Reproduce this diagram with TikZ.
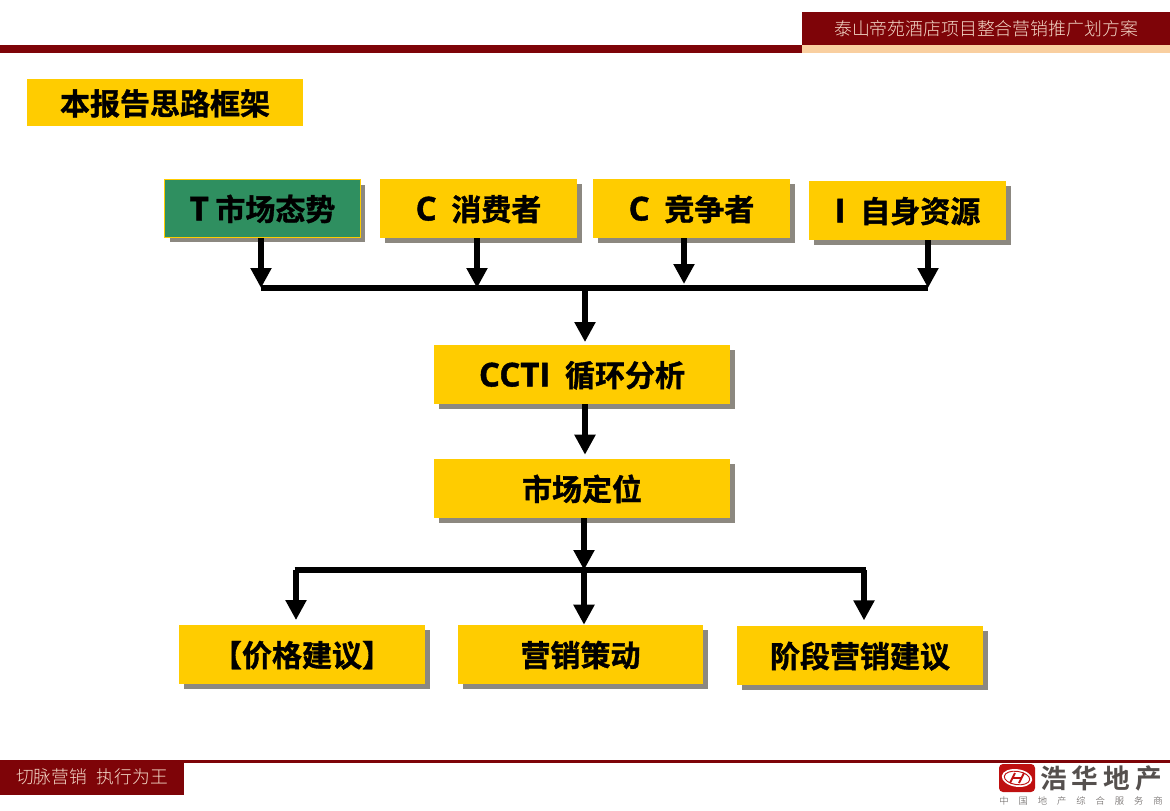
\documentclass[tikz,border=0pt]{standalone}
\usepackage{fontspec}
\usetikzlibrary{arrows.meta,shadows}
\setmainfont{Noto Sans CJK SC}[BoldFont={Noto Sans CJK SC Bold}]
\newfontfamily\lightcjk{Noto Sans CJK SC Light}
\newfontfamily\boldcjk[FakeBold=1.2]{Noto Sans CJK SC Bold}
\newfontfamily\plainboldcjk{Noto Sans CJK SC Bold}
\newfontfamily\latinbold[Scale=1.1,FakeBold=1.2]{Open Sans Bold}
\definecolor{dred}{HTML}{7E0408}
\definecolor{peach}{HTML}{F9CFA0}
\definecolor{gold}{HTML}{FFCC00}
\definecolor{tgreen}{HTML}{2F8F60}
\definecolor{shade}{HTML}{8C8880}
\definecolor{headtxt}{HTML}{F4D9C8}
\definecolor{logogray}{HTML}{55504E}
\definecolor{logored}{HTML}{BF1010}
\tikzset{
  px/.style={x=0.75pt,y=-0.75pt},
  flow/.style={fill=gold,inner sep=0pt,text=black,text height=19.5pt,text depth=1.5pt,
    font=\boldcjk\fontsize{22.5pt}{26pt}\selectfont,
    drop shadow={shadow xshift=3.75pt,shadow yshift=-3.75pt,fill=shade,opacity=1}},
  title/.style={fill=gold,inner sep=0pt,text=black,text height=19.5pt,text depth=1pt,
    font=\boldcjk\fontsize{22.5pt}{26pt}\selectfont},
  bar/.style={line width=4.6pt,black},
  feed/.style={line width=4.8pt,black,-{Triangle[width=15pt,length=15pt]}},
  headtext/.style={text=headtxt,font=\lightcjk\fontsize{13.4pt}{16pt}\selectfont,inner sep=0pt},
}
\begin{document}
\begin{tikzpicture}[px]
\useasboundingbox (0,0) rectangle (1170,810);
\fill[white] (0,0) rectangle (1170,810);
% header
\fill[dred] (0,45) rectangle (802,53);
\fill[peach] (802,45) rectangle (1170,53);
\fill[dred] (802,12) rectangle (1170,45);
\node[headtext] (head) at (986,28.5) {泰山帝苑酒店项目整合营销推广划方案};
% footer
\fill[dred] (184,760) rectangle (1170,762.5);
\fill[dred] (0,760) rectangle (184,795);
\node[headtext,font=\lightcjk\fontsize{13.3pt}{16pt}\selectfont] (foot) at (92,777) {切脉营销\hspace{7.5pt}执行为王};
% logo
\fill[rounded corners=3pt,fill=logored] (999,764) rectangle (1035,792);
\fill[white,rotate around={-8:(1017,778)}] (1017,778) ellipse [x radius=11.5pt,y radius=6.6pt];
\draw[logored,line width=0.7pt,rotate around={-8:(1017,778)}] (1017,778) ellipse [x radius=9.6pt,y radius=5pt];
\draw[logored,line width=1.4pt] (1010,783) -- (1015,773) (1019,783) -- (1024,773) (1012,778) -- (1022,778);
\node[inner sep=0pt,text=logogray,font=\plainboldcjk\fontsize{20pt}{22pt}\selectfont\addfontfeature{LetterSpace=19}] (logo) at (1101,778) {浩华地产};
\node[inner sep=0pt,text=logogray,font=\lightcjk\fontsize{7pt}{8pt}\selectfont\addfontfeature{LetterSpace=106}] (slogan) at (1081,801) {中国地产综合服务商};
% title
\node[title,minimum width=207pt,minimum height=35.25pt] (ttl) at (165,102.5) {本报告思路框架};
% row 1
\node[flow,minimum width=146.75pt,minimum height=43.25pt,fill=tgreen,draw=gold,line width=1pt] (t) at (262.5,208.5) {\latinbold T\hspace{5pt}\boldcjk 市场态势};
\node[flow,minimum width=147.75pt,minimum height=44.25pt] (c1) at (478.5,208.5) {\latinbold C\hspace{11pt}\boldcjk 消费者};
\node[flow,minimum width=147.75pt,minimum height=44.25pt] (c2) at (691.5,208.5) {\latinbold C\hspace{11pt}\boldcjk 竞争者};
\node[flow,minimum width=147.75pt,minimum height=44.25pt] (i) at (907.5,210.5) {\latinbold I\hspace{11pt}\boldcjk 自身资源};
% middle
\node[flow,minimum width=222pt,minimum height=44.25pt] (ccti) at (582,374.5) {\latinbold CCTI\hspace{11pt}\boldcjk 循环分析};
\node[flow,minimum width=222pt,minimum height=44.25pt] (pos) at (582,488.5) {市场定位};
% bottom
\node[flow,minimum width=184.5pt,minimum height=44.25pt] (price) at (302,654.5) {【价格建议】};
\node[flow,minimum width=183.75pt,minimum height=44.25pt] (plan) at (580.5,654.5) {营销策动};
\node[flow,minimum width=184.5pt,minimum height=44.25pt] (stage) at (860,655.5) {阶段营销建议};
% junctions
\coordinate (j1) at (261,288);
\coordinate (j2) at (477,288);
\coordinate (j3) at (684,288);
\coordinate (j4) at (928,288);
\coordinate (j5) at (585,288);
\coordinate (k1) at (296,570);
\coordinate (k2) at (584,570);
\coordinate (k3) at (864,570);
% connectors
\draw[feed] (t.south -| j1) -- (j1);
\draw[feed] (c1.south -| j2) -- (j2);
\draw[feed] (c2.south -| j3) -- ([yshift=3pt]j3);
\draw[feed] (i.south -| j4) -- (j4);
\draw[bar] (j1) -- (j4);
\draw[feed] (j5) -- ([yshift=2pt]j5 |- ccti.north);
\draw[feed] (ccti.south -| j5) -- ([yshift=3pt]j5 |- pos.north);
\draw[feed] (pos.south -| k2) -- (k2);
\draw[bar] ([xshift=-1pt]k1) -- ([xshift=1.5pt]k3);
\draw[feed] (k1) -- ([yshift=3.5pt]k1 |- price.north);
\draw[feed] (k2) -- (k2 |- plan.north);
\draw[feed] (k3) -- ([yshift=4pt]k3 |- stage.north);
\end{tikzpicture}
\end{document}
